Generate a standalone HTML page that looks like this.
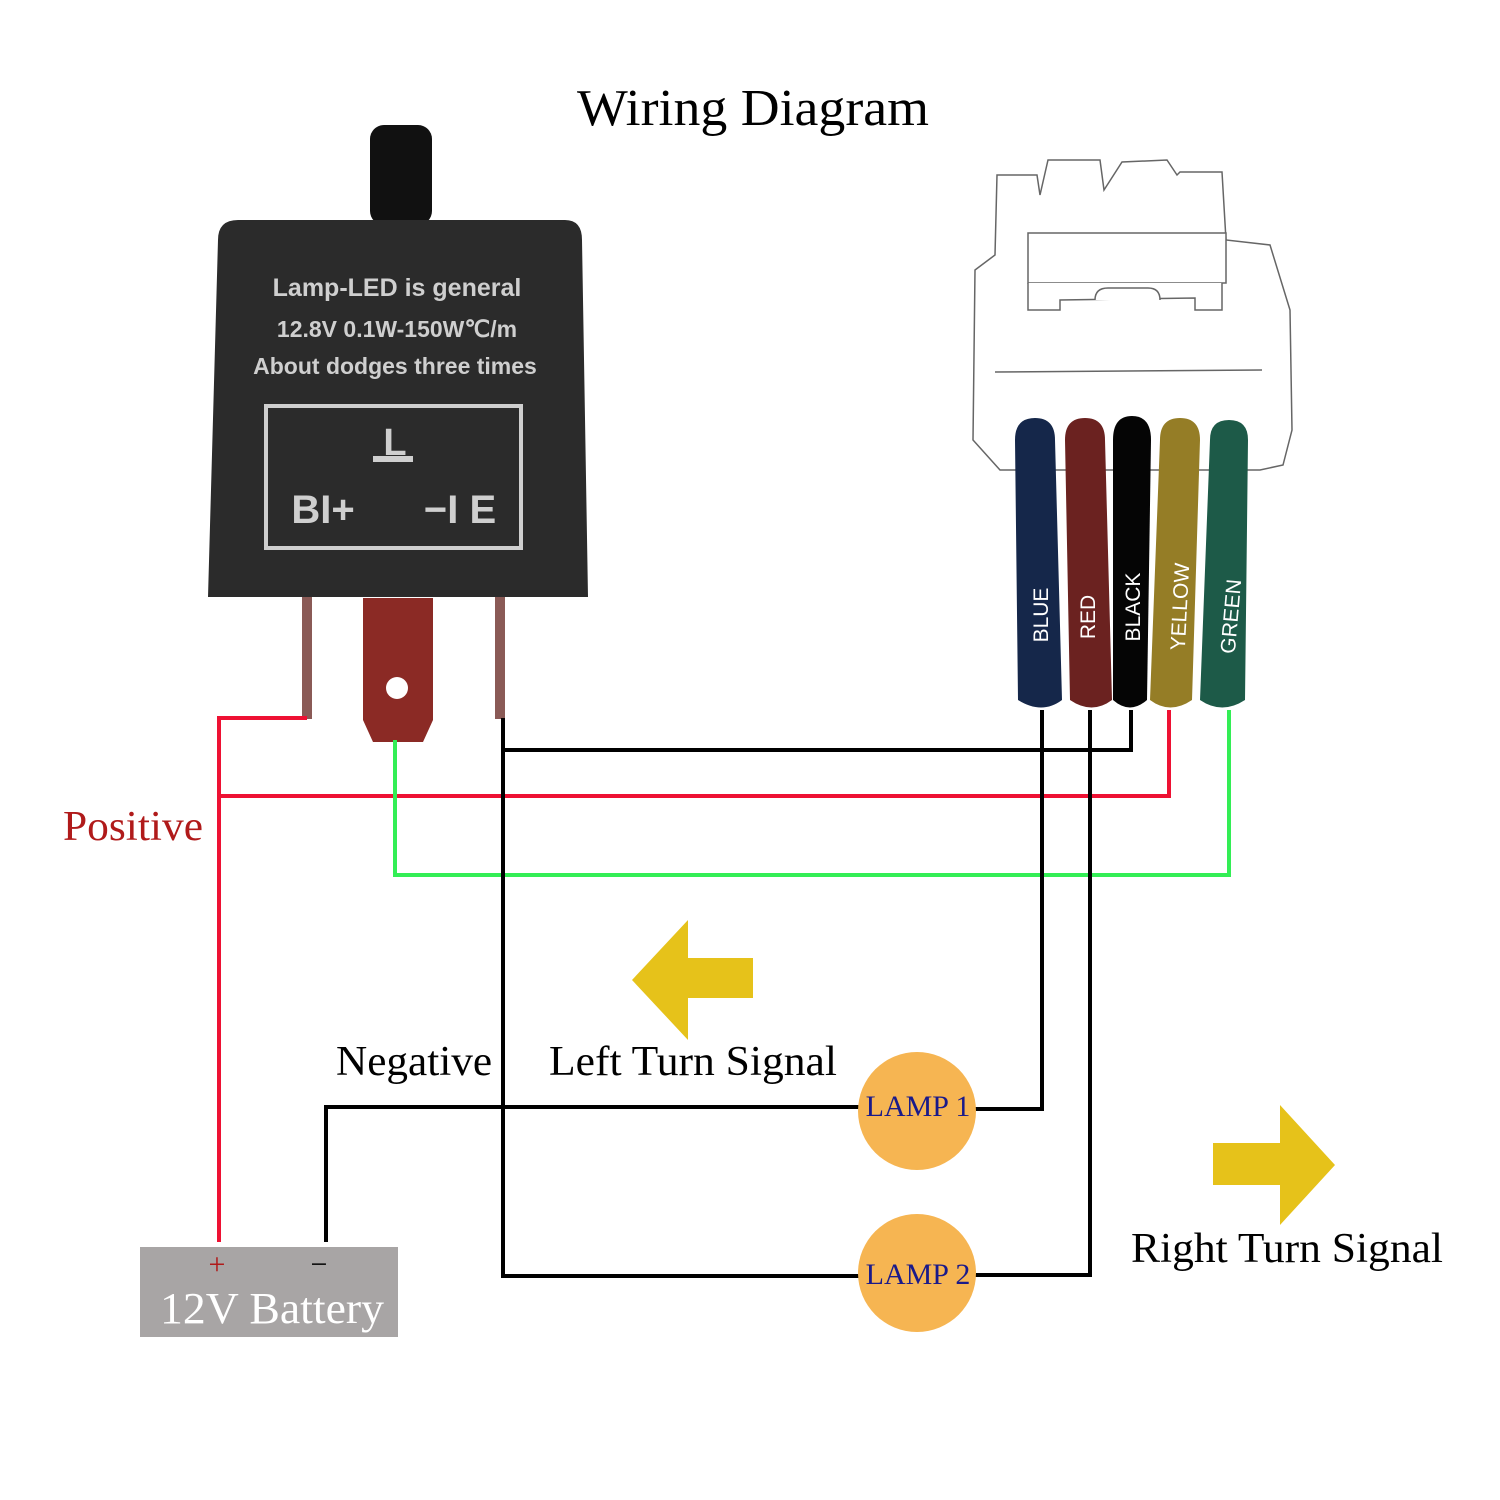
<!DOCTYPE html>
<html><head><meta charset="utf-8"><style>
html,body{margin:0;padding:0;background:#fff;}
svg{display:block;}
.s{font-family:"Liberation Serif",serif;}
.a{font-family:"Liberation Sans",sans-serif;font-weight:bold;}
</style></head><body>
<svg width="1500" height="1500" viewBox="0 0 1500 1500" xmlns="http://www.w3.org/2000/svg">
<rect width="1500" height="1500" fill="#fff"/>
<text x="753" y="125" class="s" font-size="52" text-anchor="middle" fill="#000" textLength="352" lengthAdjust="spacingAndGlyphs">Wiring Diagram</text>

<rect x="370" y="125" width="62" height="100" rx="14" fill="#111"/>
<path d="M218 240 Q218 220 238 220 L565 220 Q582 220 582 240 L588 597 L208 597 Z" fill="#2b2b2b"/>
<g class="a" fill="#cfcfcf" text-anchor="middle">
<text x="397" y="296" font-size="25">Lamp-LED is general</text>
<text x="397" y="337" font-size="23">12.8V 0.1W-150W℃/m</text>
<text x="395" y="374" font-size="23">About dodges three times</text>
<text x="395" y="455" font-size="38">L</text>
<text x="323" y="523" font-size="40">BI+</text>
<text x="460" y="523" font-size="40">−I E</text>
</g>
<rect x="373" y="456" width="40" height="6" fill="#cfcfcf"/>
<rect x="266" y="406" width="255" height="142" fill="none" stroke="#cfcfcf" stroke-width="4"/>
<rect x="302" y="597" width="10" height="122" fill="#8a5a56"/>
<rect x="495" y="597" width="10" height="122" fill="#8a5a56"/>
<path d="M363 598 L433 598 L433 720 L423 742 L373 742 L363 720 Z" fill="#8b2a25"/>
<circle cx="397" cy="688" r="11" fill="#fff"/>

<g fill="none" stroke-width="4">
<polyline points="307,718 219,718 219,1242" stroke="#ee1133"/>
<polyline points="219,796 1169,796 1169,710" stroke="#ee1133"/>
<polyline points="395,740 395,875 1229,875 1229,710" stroke="#33ee55"/>
<polyline points="503,718 503,1276 860,1276" stroke="#000"/>
<polyline points="503,750 1131,750 1131,710" stroke="#000"/>
<polyline points="1042,710 1042,1109 975,1109" stroke="#000"/>
<polyline points="1090,710 1090,1275 975,1275" stroke="#000"/>
<polyline points="326,1242 326,1107 860,1107" stroke="#000"/>
</g>

<g fill="#fff" stroke="#666" stroke-width="1.5">
<path d="M975 270 L995 255 L997 175 L1037 175 L1040 195 L1048 160 L1100 160 L1104 190 L1122 162 L1167 160 L1177 175 L1180 172 L1222 172 L1226 240 L1270 245 L1290 310 L1292 430 L1283 465 L1260 470 L1000 470 L973 440 Z"/>
<rect x="1028" y="233" width="198" height="50"/>
<path d="M1028 283 L1028 310 L1060 310 L1060 300 L1195 298 L1195 310 L1222 310 L1222 283"/>
<path d="M1095 300 Q1095 288 1108 288 L1148 288 Q1160 288 1160 300"/>
<line x1="995" y1="372" x2="1262" y2="370"/>
</g>
<g>
<path d="M1015 440 Q1015 418 1035 418 Q1055 418 1055 440 L1062 700 Q1042 715 1018 700 Z" fill="#15274a"/>
<path d="M1065 440 Q1065 418 1085 418 Q1105 418 1105 440 L1112 700 Q1092 715 1070 700 Z" fill="#6b2220"/>
<path d="M1113 440 Q1113 416 1132 416 Q1151 416 1151 440 L1147 700 Q1130 715 1113 700 Z" fill="#050505"/>
<path d="M1160 440 Q1160 418 1180 418 Q1200 418 1200 440 L1192 700 Q1170 715 1150 700 Z" fill="#957d26"/>
<path d="M1210 440 Q1210 420 1229 420 Q1248 420 1248 440 L1245 700 Q1222 715 1200 700 Z" fill="#1d5a48"/>
<g font-family="Liberation Sans,sans-serif" font-size="21" fill="#fff" text-anchor="middle">
<text transform="translate(1048,615) rotate(-90)">BLUE</text>
<text transform="translate(1095,617) rotate(-90)">RED</text>
<text transform="translate(1140,607) rotate(-90)">BLACK</text>
<text transform="translate(1187,607) rotate(-87)">YELLOW</text>
<text transform="translate(1238,617) rotate(-85)">GREEN</text>
</g>
</g>

<path d="M632 980 L688 920 L688 958 L753 958 L753 998 L688 998 L688 1040 Z" fill="#e6c21a"/>
<path d="M1335 1165 L1280 1105 L1280 1143 L1213 1143 L1213 1185 L1280 1185 L1280 1225 Z" fill="#e6c21a"/>

<circle cx="917" cy="1111" r="59" fill="#f6b552"/>
<circle cx="917" cy="1273" r="59" fill="#f6b552"/>
<g class="s" font-size="30" fill="#1a1a8a" text-anchor="middle">
<text x="918" y="1116">LAMP 1</text>
<text x="918" y="1284">LAMP 2</text>
</g>

<g class="s" font-size="42">
<text x="63" y="840" fill="#b01a1a" textLength="140" lengthAdjust="spacingAndGlyphs">Positive</text>
<text x="336" y="1075" fill="#000" textLength="156" lengthAdjust="spacingAndGlyphs">Negative</text>
<text x="549" y="1075" fill="#000" textLength="288" lengthAdjust="spacingAndGlyphs">Left Turn Signal</text>
<text x="1131" y="1262" fill="#000" textLength="312" lengthAdjust="spacingAndGlyphs">Right Turn Signal</text>
</g>

<rect x="140" y="1247" width="258" height="90" fill="#a8a5a5"/>
<text x="217" y="1274" class="s" font-size="30" fill="#b01a1a" text-anchor="middle">+</text>
<text x="319" y="1274" class="s" font-size="30" fill="#000" text-anchor="middle">−</text>
<text x="160" y="1323" class="s" font-size="44" fill="#fff" textLength="224" lengthAdjust="spacingAndGlyphs">12V Battery</text>
</svg>
</body></html>
